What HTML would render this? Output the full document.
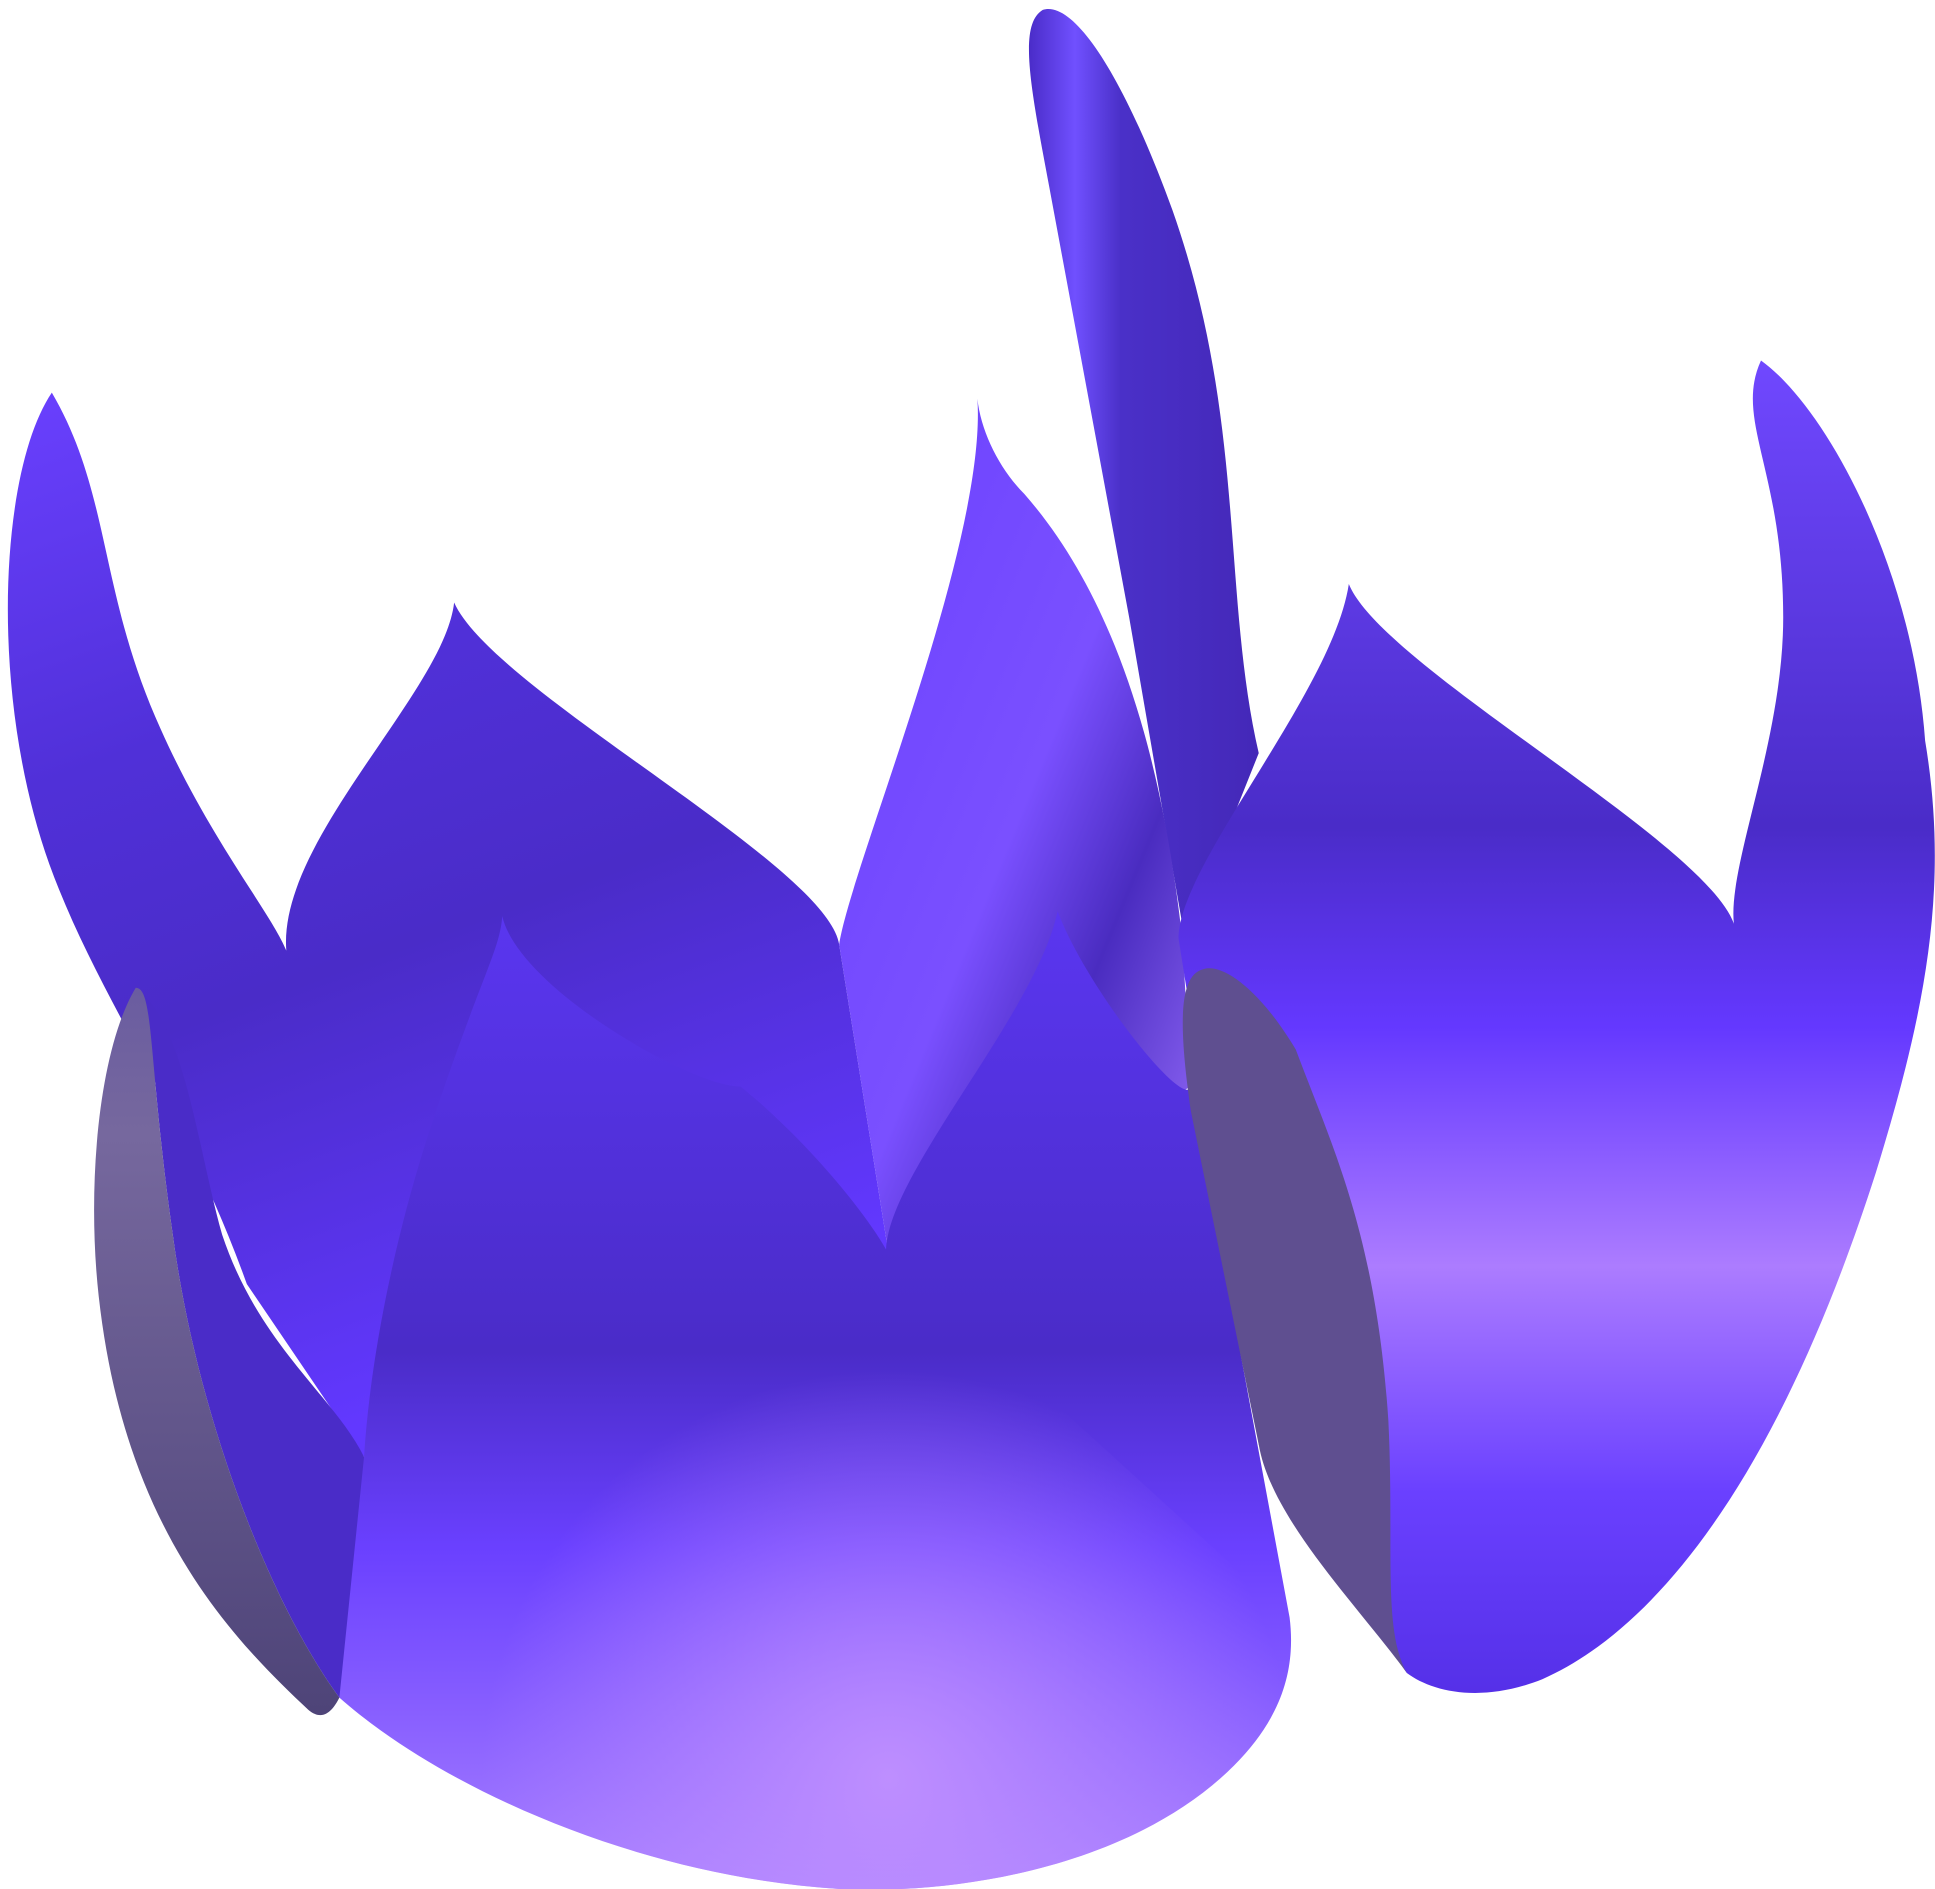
<!DOCTYPE html>
<html><head><meta charset="utf-8"><style>
html,body{margin:0;padding:0;background:#fff;width:1935px;height:1889px;overflow:hidden}
svg{display:block}
</style></head><body>
<svg width="1935" height="1889" viewBox="0 0 1568 1530" preserveAspectRatio="none" xmlns="http://www.w3.org/2000/svg">
<defs>
<linearGradient id="gLeft" x1="0" y1="0" x2="0.3" y2="1">
<stop offset="0" stop-color="#6a40ff"/><stop offset="0.35" stop-color="#5030d8"/><stop offset="0.6" stop-color="#4a2cc8"/><stop offset="1" stop-color="#6238ff"/></linearGradient>
<linearGradient id="gCenter" x1="0" y1="0" x2="1" y2="1">
<stop offset="0" stop-color="#6a40ff"/><stop offset="0.5" stop-color="#7a50ff"/><stop offset="0.7" stop-color="#4a2cc0"/><stop offset="1" stop-color="#9a70ff"/></linearGradient>
<linearGradient id="gTall" x1="0" y1="0" x2="1" y2="0">
<stop offset="0" stop-color="#4a2cc8"/><stop offset="0.2" stop-color="#7050ff"/><stop offset="0.4" stop-color="#4a30c8"/><stop offset="1" stop-color="#4428b8"/></linearGradient>
<linearGradient id="gRight" x1="0" y1="0" x2="0" y2="1">
<stop offset="0" stop-color="#7048ff"/><stop offset="0.35" stop-color="#4a2cc8"/><stop offset="0.5" stop-color="#6438ff"/><stop offset="0.68" stop-color="#ac7cff"/><stop offset="0.85" stop-color="#6a40ff"/><stop offset="1" stop-color="#5530e8"/></linearGradient>
<linearGradient id="gFront" x1="0" y1="0" x2="0" y2="1">
<stop offset="0" stop-color="#5a36f0"/><stop offset="0.45" stop-color="#4a2cc8"/><stop offset="0.65" stop-color="#6a40ff"/><stop offset="1" stop-color="#a880ff"/></linearGradient>
<radialGradient id="gGlow" cx="720" cy="1440" r="330" gradientUnits="userSpaceOnUse">
<stop offset="0" stop-color="#c090ff" stop-opacity="0.95"/><stop offset="1" stop-color="#c090ff" stop-opacity="0"/></radialGradient>
<linearGradient id="gGrey" x1="0" y1="0" x2="0" y2="1">
<stop offset="0" stop-color="#6a5ca0"/><stop offset="0.2" stop-color="#76689e"/><stop offset="1" stop-color="#4e4478"/></linearGradient>
</defs>
<rect x="0" y="0" width="1568" height="1530" fill="#ffffff"/>
<path fill="url(#gTall)" d="M845,8 C870,0 910,60 950,170 C1010,340 990,480 1020,610 L960,760 L915,500 L850,150 C835,70 825,20 845,8 Z"/>
<path fill="url(#gLeft)" d="M42,318 C0,380 -10,560 40,700 C80,810 150,900 200,1040 L295,1180 L720,1015 L680,765 C670,700 400,560 368,488 C360,560 225,680 232,770 C220,740 170,680 130,590 C80,480 90,400 42,318 Z"/>
<path fill="url(#gCenter)" d="M792,323 C800,440 690,700 680,765 L720,1015 L965,880 L958,760 C940,600 900,480 830,400 C810,380 795,350 792,323 Z"/>
<path fill="url(#gRight)" d="M1093,473 C1120,540 1380,680 1405,748 C1400,700 1445,600 1445,500 C1445,380 1405,340 1427,292 C1480,330 1550,460 1560,600 C1580,720 1560,820 1520,950 C1440,1200 1340,1320 1250,1360 C1200,1380 1160,1370 1140,1355 L1020,1170 L955,760 C955,700 1080,560 1093,473 Z"/>
<path fill="#4a2cc8" d="M110,800 C150,830 160,930 180,1000 C210,1090 270,1130 295,1180 L295,1300 L275,1375 C220,1300 160,1150 140,1000 C120,860 125,800 110,800 Z"/>
<path fill="url(#gFront)" d="M407,742 C420,800 560,880 600,880 C650,920 700,980 718,1012 C720,950 840,820 857,738 C880,800 960,900 965,880 L1045,1310 C1050,1350 1040,1390 1000,1430 C920,1510 780,1535 680,1530 C520,1520 360,1450 275,1375 L295,1180 C300,1100 320,1000 350,910 C390,790 405,770 407,742 Z"/>
<path fill="url(#gGlow)" d="M295,1180 L718,1012 L1045,1310 C1050,1350 1040,1390 1000,1430 C920,1510 780,1535 680,1530 C520,1520 360,1450 275,1375 Z"/>
<path fill="url(#gGrey)" d="M110,800 C80,850 70,960 80,1050 C100,1230 180,1320 250,1385 C262,1395 270,1385 275,1375 C220,1300 160,1150 140,1000 C120,860 125,800 110,800 Z"/>
<path fill="#5f4f90" d="M975,785 C955,790 955,830 965,900 L1020,1170 C1030,1230 1100,1300 1140,1355 C1120,1320 1130,1250 1125,1150 C1115,1000 1080,930 1050,850 C1020,800 990,780 975,785 Z"/>
</svg>
</body></html>
